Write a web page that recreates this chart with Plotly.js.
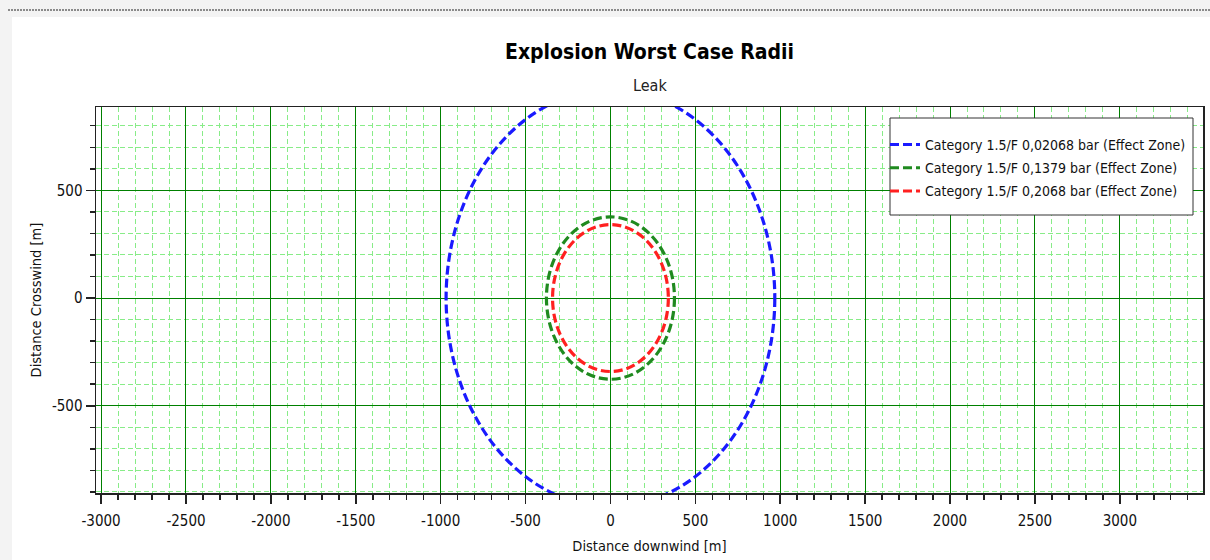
<!DOCTYPE html>
<html>
<head>
<meta charset="utf-8">
<script src="https://cdn.plot.ly/plotly-3.0.1.min.js"></script>
<style>html,body{margin:0;padding:0;background:#fff;overflow:hidden;}#chart{width:1210px;height:560px;}</style>
</head>
<body>
<div id="chart"></div>
<script>
// ---- data ----
const seriesNames = [
  "Category 1.5/F 0,02068 bar (Effect Zone)",
  "Category 1.5/F 0,1379 bar (Effect Zone)",
  "Category 1.5/F 0,2068 bar (Effect Zone)"
];
const radii = [968, 377, 341];          // effect zone radius [m]
const centersX = [0, 0, 0];
const centersY = [0, 0, 0];
const xTickVals = [-3000, -2500, -2000, -1500, -1000, -500, 0, 500, 1000, 1500, 2000, 2500, 3000];
const yTickVals = [-500, 0, 500];

// ---- style ----
const colors = ["#1a1aff", "#1f8a1f", "#ff2020"];
const FONT = "'Liberation Sans Narrow', 'DejaVu Sans Condensed', 'Liberation Sans', sans-serif";

// plot area pixel geometry helpers for paper-referenced decorations
const W = 1210, H = 560;
const L = 96, R = 1203, T = 107, B = 493;
const px = v => (v - L) / (R - L);
const py = v => (B - v) / (B - T);

const traces = seriesNames.map((n, i) => ({
  type: "scatter", mode: "lines", x: [null], y: [null], name: n,
  legendgroup: "g" + i,
  line: {color: colors[i], width: 3, dash: "9px,4px"},
  hoverinfo: "skip"
}));

const shapes = [
  // page background
  {type: "rect", xref: "paper", yref: "paper", x0: px(0), x1: px(W), y0: py(H), y1: py(0),
   fillcolor: "#f3f3f3", line: {width: 0}, layer: "below"},
  {type: "rect", xref: "paper", yref: "paper", x0: px(12), x1: px(W), y0: py(H), y1: py(17),
   fillcolor: "#ffffff", line: {width: 0}, layer: "below"},
  {type: "line", xref: "paper", yref: "paper", x0: px(8), x1: px(W), y0: py(10), y1: py(10),
   line: {color: "#8a8a8a", width: 2, dash: "2px,1px"}, layer: "below"}
];
radii.forEach((r, i) => {
  shapes.push({type: "circle", xref: "x", yref: "y",
    x0: centersX[i] - r, x1: centersX[i] + r, y0: centersY[i] - r, y1: centersY[i] + r,
    line: {color: colors[i], width: 3.2, dash: "9px,4px"}, layer: "above"});
});
// legend frame
shapes.push({type: "rect", xref: "paper", yref: "paper", x0: px(890), x1: px(1193), y0: py(215), y1: py(118),
  fillcolor: "#ffffff", line: {color: "#333333", width: 1}, layer: "above"});

const axisCommon = {
  showline: true, mirror: true, linecolor: "#222", linewidth: 1.5,
  ticks: "outside", ticklen: 9, tickcolor: "#222", tickwidth: 1.5,
  showgrid: true, gridcolor: "#008000", gridwidth: 1,
  zeroline: false,
  tickfont: {family: FONT, size: 15, color: "#111"},
  tickmode: "array",
  minor: {dtick: 100, ticks: "outside", ticklen: 5, tickcolor: "#222", tickwidth: 1.5,
          showgrid: true, gridcolor: "#88ec88", gridwidth: 1, griddash: "5px,3px"}
};

const layout = {
  width: W, height: H, autosize: false,
  margin: {l: L, r: W - R, t: T, b: H - B, pad: 0},
  paper_bgcolor: "#ffffff", plot_bgcolor: "#ffffff",
  font: {family: FONT, color: "#111"},
  title: {
    text: "<b>Explosion Worst Case Radii</b>",
    font: {family: FONT, size: 21, color: "#000"},
    x: 0.5, xref: "paper", y: 1 - 52 / H, yref: "container", yanchor: "middle"
  },
  annotations: [{
    text: "Leak", xref: "paper", yref: "paper", x: 0.5, y: py(85),
    xanchor: "center", yanchor: "middle", showarrow: false,
    font: {family: FONT, size: 16, color: "#222"}
  }],
  xaxis: Object.assign({}, axisCommon, {
    range: [-3030, 3490], tickvals: xTickVals, ticktext: xTickVals.map(String),
    ticklabelstandoff: 4,
    title: {text: "Distance downwind [m]", font: {family: FONT, size: 14.5, color: "#111"}, standoff: 12}
  }),
  yaxis: Object.assign({}, axisCommon, {
    range: [-905, 887], tickvals: yTickVals, ticktext: yTickVals.map(String),
    title: {text: "Distance Crosswind [m]", font: {family: FONT, size: 14.5, color: "#111"}, standoff: 7}
  }),
  showlegend: true,
  legend: {
    x: px(885), y: py(129), xanchor: "left", yanchor: "top",
    bgcolor: "rgba(0,0,0,0)", borderwidth: 0,
    font: {family: FONT, size: 14, color: "#111"},
    tracegroupgap: 2
  },
  shapes: shapes
};

Plotly.newPlot("chart", traces, layout, {displayModeBar: false, staticPlot: true, responsive: false});
</script>
</body>
</html>
